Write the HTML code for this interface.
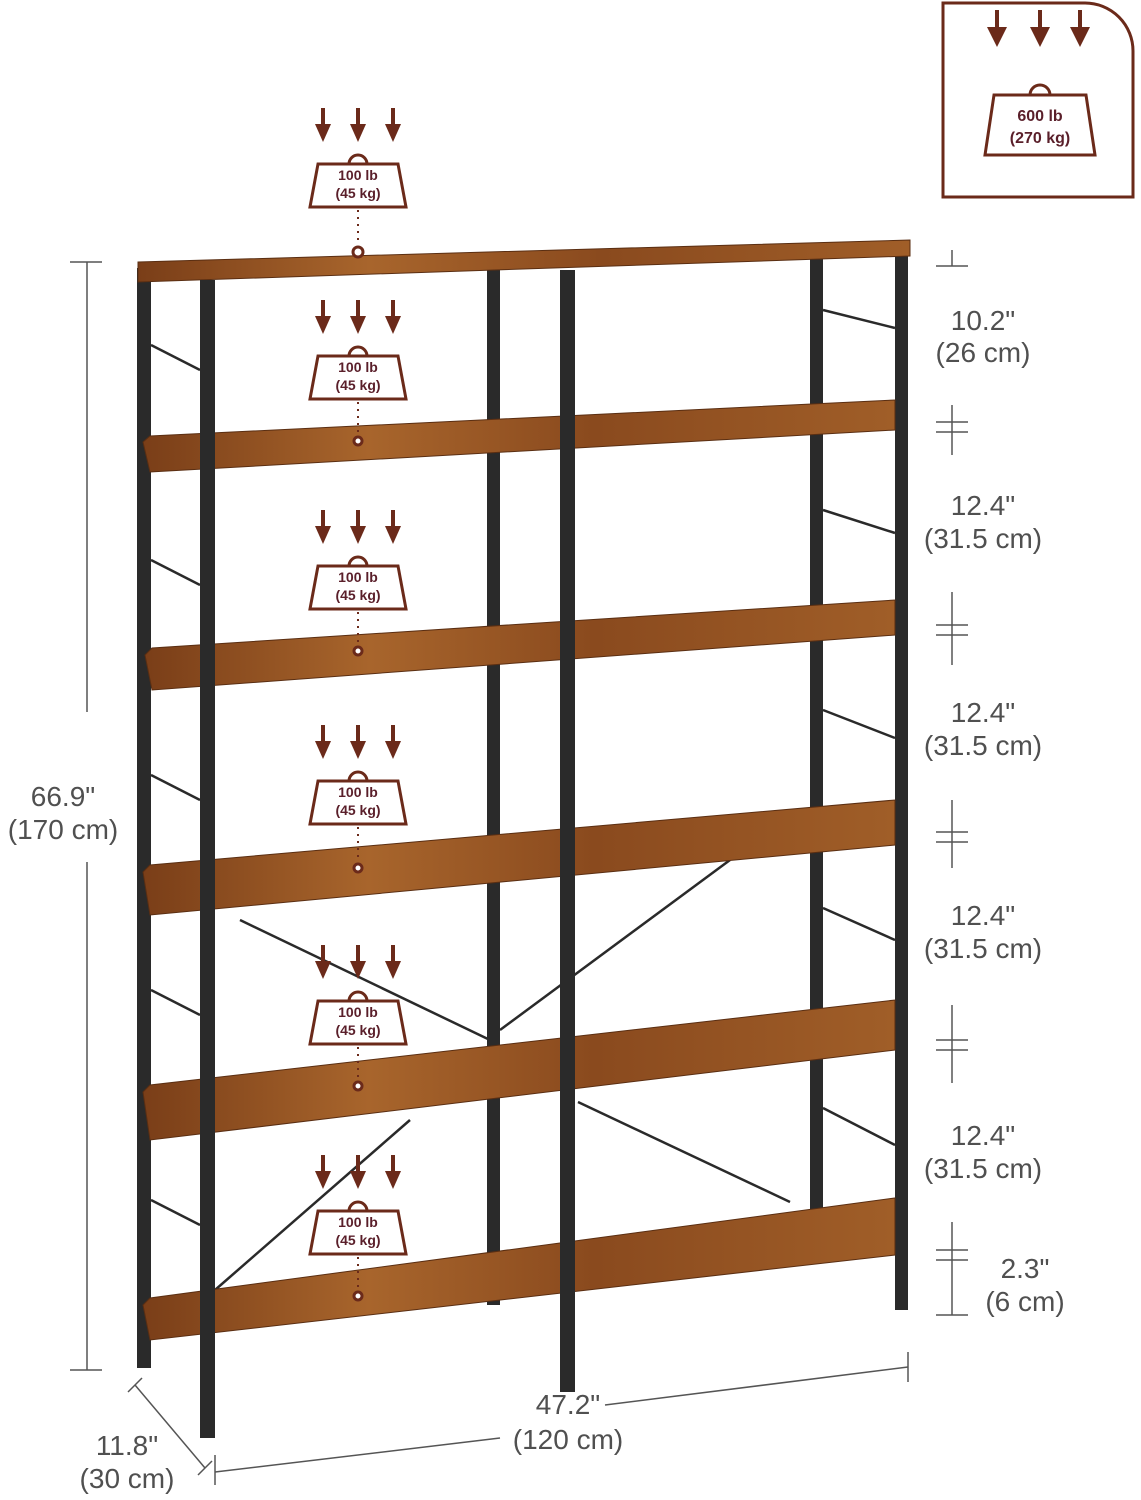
<!DOCTYPE html>
<html><head><meta charset="utf-8"><style>
html,body{margin:0;padding:0;background:#fff}
svg{display:block}
.d{font-family:"Liberation Sans",sans-serif;font-size:28px;fill:#505050;text-anchor:middle}
.b{font-family:"Liberation Sans",sans-serif;font-size:14px;font-weight:bold;fill:#5a1f2a;text-anchor:middle}
</style></head><body>
<svg width="1141" height="1500" viewBox="0 0 1141 1500" xmlns="http://www.w3.org/2000/svg">
<defs>
<linearGradient id="w" x1="0" y1="0" x2="1" y2="0">
<stop offset="0" stop-color="#7a3e18"/><stop offset="0.3" stop-color="#a8652c"/><stop offset="0.6" stop-color="#8a4a1e"/><stop offset="1" stop-color="#a05e28"/>
</linearGradient>
<g id="bag">
<g fill="#6b2a1a">
<rect x="-37" y="0" width="4" height="20"/><path d="M-43,16 L-27,16 L-35,34 Z"/>
<rect x="-2" y="0" width="4" height="20"/><path d="M-8,16 L8,16 L0,34 Z"/>
<rect x="33" y="0" width="4" height="20"/><path d="M27,16 L43,16 L35,34 Z"/>
</g>
<path d="M-9,56 A9,9 0 0 1 9,56" fill="none" stroke="#6b2a1a" stroke-width="3"/>
<path d="M-40,56 L40,56 L48,99 L-48,99 Z" fill="#fff" stroke="#6b2a1a" stroke-width="3"/>
</g>
</defs>

<g fill="#2a2a2a">
<rect x="137" y="268" width="14" height="1100"/>
<rect x="487" y="270" width="13" height="1035"/>
<rect x="895" y="252" width="13" height="1058"/>
<rect x="810" y="258" width="13" height="960"/>
</g>
<g stroke="#2a2a2a" stroke-width="2.5">
<line x1="151" y1="345" x2="200" y2="370"/><line x1="151" y1="560" x2="200" y2="585"/>
<line x1="151" y1="775" x2="200" y2="800"/><line x1="151" y1="990" x2="200" y2="1015"/>
<line x1="151" y1="1200" x2="200" y2="1225"/>
<line x1="823" y1="310" x2="895" y2="328"/><line x1="823" y1="510" x2="895" y2="533"/>
<line x1="823" y1="710" x2="895" y2="738"/><line x1="823" y1="908" x2="895" y2="940"/>
<line x1="823" y1="1108" x2="895" y2="1145"/>
<line x1="240" y1="920" x2="490" y2="1040"/><line x1="500" y1="1030" x2="730" y2="860"/>
<line x1="578" y1="1102" x2="790" y2="1202"/><line x1="410" y1="1120" x2="215" y2="1290"/>
</g>
<g fill="url(#w)" stroke="#5a2e12" stroke-width="1">
<path d="M138,262 L910,240 L910,256 L138,282 Z"/>
<path d="M143,442 L150,436 L895,400 L895,430 L150,472 Z"/>
<path d="M145,655 L152,648 L895,600 L895,635 L152,690 Z"/>
<path d="M143,872 L150,865 L895,800 L895,845 L150,915 Z"/>
<path d="M143,1092 L150,1085 L895,1000 L895,1050 L150,1140 Z"/>
<path d="M143,1305 L150,1298 L895,1198 L895,1255 L150,1340 Z"/>
</g>
<g fill="#2a2a2a">
<rect x="200" y="280" width="15" height="1158"/>
<rect x="560" y="270" width="15" height="1122"/>
</g>

<g>
<use href="#bag" x="358" y="108"/><text class="b" x="358" y="180">100 lb</text><text class="b" x="358" y="198">(45 kg)</text>
<use href="#bag" x="358" y="300"/><text class="b" x="358" y="372">100 lb</text><text class="b" x="358" y="390">(45 kg)</text>
<use href="#bag" x="358" y="510"/><text class="b" x="358" y="582">100 lb</text><text class="b" x="358" y="600">(45 kg)</text>
<use href="#bag" x="358" y="725"/><text class="b" x="358" y="797">100 lb</text><text class="b" x="358" y="815">(45 kg)</text>
<use href="#bag" x="358" y="945"/><text class="b" x="358" y="1017">100 lb</text><text class="b" x="358" y="1035">(45 kg)</text>
<use href="#bag" x="358" y="1155"/><text class="b" x="358" y="1227">100 lb</text><text class="b" x="358" y="1245">(45 kg)</text>
</g>
<g stroke="#6b2a1a" stroke-width="2" stroke-dasharray="2,5">
<line x1="358" y1="210" x2="358" y2="245"/><line x1="358" y1="402" x2="358" y2="435"/>
<line x1="358" y1="612" x2="358" y2="645"/><line x1="358" y1="827" x2="358" y2="862"/>
<line x1="358" y1="1047" x2="358" y2="1080"/><line x1="358" y1="1257" x2="358" y2="1290"/>
</g>
<g fill="#fff" stroke="#6b2a1a" stroke-width="3">
<circle cx="358" cy="252" r="5"/><circle cx="358" cy="441" r="4"/><circle cx="358" cy="651" r="4"/>
<circle cx="358" cy="868" r="4"/><circle cx="358" cy="1086" r="4"/><circle cx="358" cy="1296" r="4"/>
</g>

<path d="M943,3 L1085,3 A48,48 0 0 1 1133,51 L1133,197 L943,197 Z" fill="#fff" stroke="#6b2a1a" stroke-width="3"/>
<g fill="#6b2a1a">
<rect x="995" y="10" width="4" height="22"/><path d="M987,27 L1007,27 L997,47 Z"/>
<rect x="1038" y="10" width="4" height="22"/><path d="M1030,27 L1050,27 L1040,47 Z"/>
<rect x="1078" y="10" width="4" height="22"/><path d="M1070,27 L1090,27 L1080,47 Z"/>
</g>
<path d="M1030,95 A10,10 0 0 1 1050,95" fill="none" stroke="#6b2a1a" stroke-width="3"/>
<path d="M994,95 L1086,95 L1095,155 L985,155 Z" fill="#fff" stroke="#6b2a1a" stroke-width="3"/>
<text class="b" x="1040" y="121" style="font-size:16px">600 lb</text>
<text class="b" x="1040" y="143" style="font-size:16px">(270 kg)</text>

<g stroke="#555" stroke-width="1.5">
<line x1="952" y1="250" x2="952" y2="266"/><line x1="936" y1="266" x2="968" y2="266"/>
<line x1="952" y1="405" x2="952" y2="455"/><line x1="936" y1="422" x2="968" y2="422"/><line x1="936" y1="432" x2="968" y2="432"/>
<line x1="952" y1="592" x2="952" y2="665"/><line x1="936" y1="625" x2="968" y2="625"/><line x1="936" y1="635" x2="968" y2="635"/>
<line x1="952" y1="800" x2="952" y2="868"/><line x1="936" y1="832" x2="968" y2="832"/><line x1="936" y1="842" x2="968" y2="842"/>
<line x1="952" y1="1005" x2="952" y2="1083"/><line x1="936" y1="1040" x2="968" y2="1040"/><line x1="936" y1="1050" x2="968" y2="1050"/>
<line x1="952" y1="1222" x2="952" y2="1315"/><line x1="936" y1="1250" x2="968" y2="1250"/><line x1="936" y1="1260" x2="968" y2="1260"/><line x1="936" y1="1315" x2="968" y2="1315"/>
<line x1="87" y1="262" x2="87" y2="712"/><line x1="87" y1="862" x2="87" y2="1370"/>
<line x1="70" y1="262" x2="102" y2="262"/><line x1="70" y1="1370" x2="102" y2="1370"/>
<line x1="215" y1="1472" x2="500" y2="1438"/><line x1="605" y1="1405" x2="908" y2="1367"/>
<line x1="215" y1="1455" x2="215" y2="1485"/><line x1="908" y1="1352" x2="908" y2="1382"/>
<line x1="135" y1="1385" x2="205" y2="1468"/><line x1="128" y1="1392" x2="142" y2="1378"/><line x1="198" y1="1475" x2="212" y2="1461"/>
</g>
<text class="d" x="983" y="330">10.2"</text><text class="d" x="983" y="362">(26 cm)</text>
<text class="d" x="983" y="515">12.4"</text><text class="d" x="983" y="548">(31.5 cm)</text>
<text class="d" x="983" y="722">12.4"</text><text class="d" x="983" y="755">(31.5 cm)</text>
<text class="d" x="983" y="925">12.4"</text><text class="d" x="983" y="958">(31.5 cm)</text>
<text class="d" x="983" y="1145">12.4"</text><text class="d" x="983" y="1178">(31.5 cm)</text>
<text class="d" x="1025" y="1278">2.3"</text><text class="d" x="1025" y="1311">(6 cm)</text>
<text class="d" x="63" y="806">66.9"</text><text class="d" x="63" y="839">(170 cm)</text>
<text class="d" x="568" y="1414">47.2"</text><text class="d" x="568" y="1449">(120 cm)</text>
<text class="d" x="127" y="1455">11.8"</text><text class="d" x="127" y="1488">(30 cm)</text>
</svg>
</body></html>
